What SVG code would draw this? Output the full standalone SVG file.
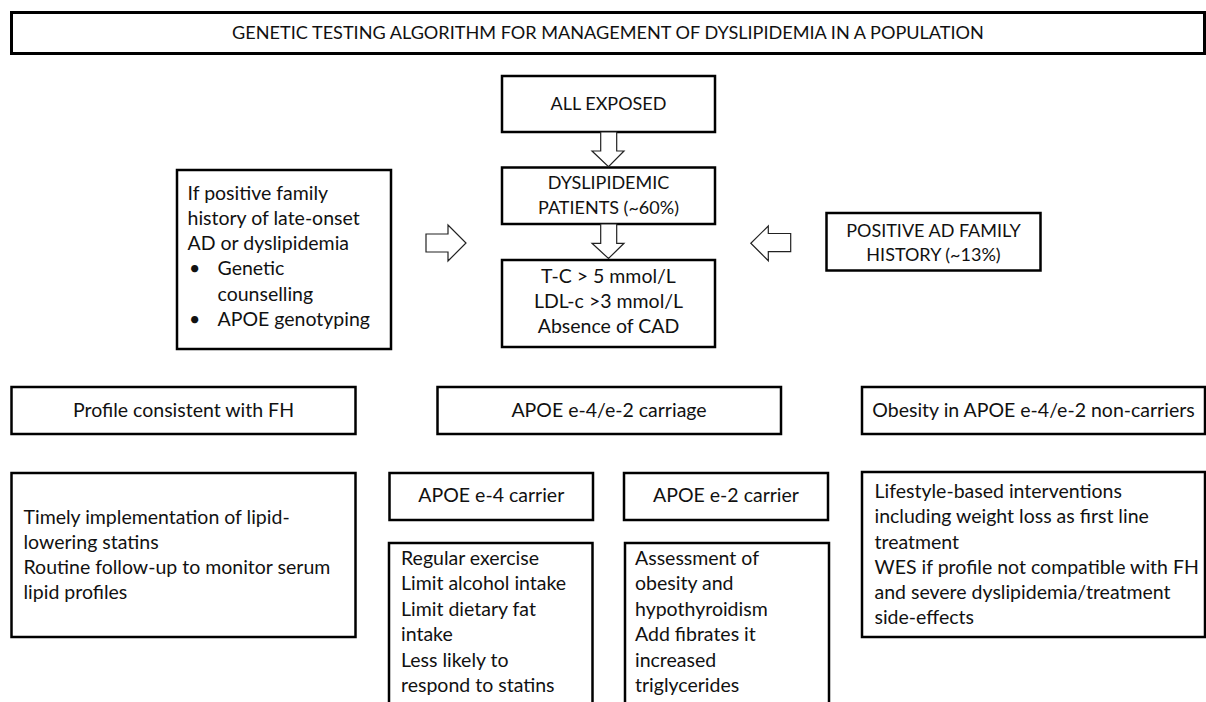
<svg xmlns="http://www.w3.org/2000/svg" width="1206" height="702" viewBox="0 0 1206 702">
<style>
  .box { fill: #fff; stroke: #000; stroke-width: 2.5; }
  .tbox { fill: #fff; stroke: #000; stroke-width: 3; }
  .arr { fill: #fff; stroke: #222; stroke-width: 1.2; stroke-linejoin: miter; }
  text { font-family: Lato, "Open Sans", sans-serif; font-size: 19.5px; fill: #111; }
  .c { text-anchor: middle; }
  .up { font-size: 18px; }
  .ttl { font-size: 18.1px; }
</style>
<rect width="1206" height="702" fill="#fff"/>
<g id="title">
  <rect class="tbox" x="11.5" y="12.5" width="1193" height="41"/>
  <text class="c ttl" x="608" y="39">GENETIC TESTING ALGORITHM FOR MANAGEMENT OF DYSLIPIDEMIA IN A POPULATION</text>
</g>
<g id="all-exposed">
  <rect class="box" x="502" y="76" width="213" height="56"/>
  <text class="c up" x="608.5" y="110">ALL EXPOSED</text>
</g>
<g id="dyslipidemic">
  <rect class="box" x="502" y="167.5" width="213" height="56.5"/>
  <text class="c up" x="608.5" y="188.5">DYSLIPIDEMIC</text>
  <text class="c up" x="608.5" y="213.5">PATIENTS (~60%)</text>
</g>
<g id="criteria">
  <rect class="box" x="502" y="260" width="213" height="87"/>
  <text class="c" x="608.5" y="283">T-C &gt; 5 mmol/L</text>
  <text class="c" x="608.5" y="308">LDL-c &gt;3 mmol/L</text>
  <text class="c" x="608.5" y="333">Absence of CAD</text>
</g>
<g id="family-history-advice">
  <rect class="box" x="177" y="170" width="214" height="179"/>
  <text x="187.5" y="199.5">If positive family</text>
  <text x="187.5" y="224.5">history of late-onset</text>
  <text x="187.5" y="249.5">AD or dyslipidemia</text>
  <text x="189" y="275">•</text>
  <text x="217.5" y="275">Genetic</text>
  <text x="217.5" y="300.5">counselling</text>
  <text x="189" y="326">•</text>
  <text x="217.5" y="326">APOE genotyping</text>
</g>
<g id="positive-ad">
  <rect class="box" x="826.5" y="213" width="214" height="57.5"/>
  <text class="c up" x="933.5" y="237">POSITIVE AD FAMILY</text>
  <text class="c up" x="933.5" y="261">HISTORY (~13%)</text>
</g>
<g id="profile-fh">
  <rect class="box" x="11.5" y="387" width="344" height="47"/>
  <text class="c" x="183.5" y="417">Profile consistent with FH</text>
</g>
<g id="apoe-carriage">
  <rect class="box" x="437.5" y="387" width="343.5" height="47"/>
  <text class="c" x="609" y="417">APOE e-4/e-2 carriage</text>
</g>
<g id="obesity">
  <rect class="box" x="862" y="387" width="343" height="47"/>
  <text class="c" x="1033.5" y="417">Obesity in APOE e-4/e-2 non-carriers</text>
</g>
<g id="fh-management">
  <rect class="box" x="11.5" y="473" width="344" height="164"/>
  <text x="23.5" y="523.5">Timely implementation of lipid-</text>
  <text x="23.5" y="548.5">lowering statins</text>
  <text x="23.5" y="574">Routine follow-up to monitor serum</text>
  <text x="23.5" y="599">lipid profiles</text>
</g>
<g id="e4-carrier">
  <rect class="box" x="389.5" y="473" width="203.5" height="47"/>
  <text class="c" x="491.3" y="502">APOE e-4 carrier</text>
</g>
<g id="e4-management">
  <rect class="box" x="389" y="543" width="203.5" height="175"/>
  <text x="401" y="565">Regular exercise</text>
  <text x="401" y="590">Limit alcohol intake</text>
  <text x="401" y="616">Limit dietary fat</text>
  <text x="401" y="641">intake</text>
  <text x="401" y="666.5">Less likely to</text>
  <text x="401" y="692">respond to statins</text>
</g>
<g id="e2-carrier">
  <rect class="box" x="624" y="473" width="204" height="47"/>
  <text class="c" x="726" y="502">APOE e-2 carrier</text>
</g>
<g id="e2-management">
  <rect class="box" x="625" y="543" width="204" height="175"/>
  <text x="635" y="565">Assessment of</text>
  <text x="635" y="590">obesity and</text>
  <text x="635" y="616">hypothyroidism</text>
  <text x="635" y="641">Add fibrates it</text>
  <text x="635" y="666.5">increased</text>
  <text x="635" y="692">triglycerides</text>
</g>
<g id="obesity-management">
  <rect class="box" x="862" y="472" width="343" height="165"/>
  <text x="874.5" y="497.5">Lifestyle-based interventions</text>
  <text x="874.5" y="523">including weight loss as first line</text>
  <text x="874.5" y="548.5">treatment</text>
  <text x="874.5" y="573.5">WES if profile not compatible with FH</text>
  <text x="874.5" y="598.5">and severe dyslipidemia/treatment</text>
  <text x="874.5" y="624">side-effects</text>
</g>
<g id="connectors">
  <path class="arr" d="M600.7,132 H616.7 V151 H624 L608.5,166.7 L592,151 H600.7 Z"/>
  <path class="arr" d="M600.7,224 H616.7 V243.3 H624 L608.5,258.5 L592,243.3 H600.7 Z"/>
  <path class="arr" d="M426,234 H448 V225 L466,243 L448,261 V252 H426 Z"/>
  <path class="arr" d="M790.7,233.5 H768.3 V226 L750.8,243.3 L768.3,260.7 V251.7 H790.7 Z"/>
</g>
</svg>
